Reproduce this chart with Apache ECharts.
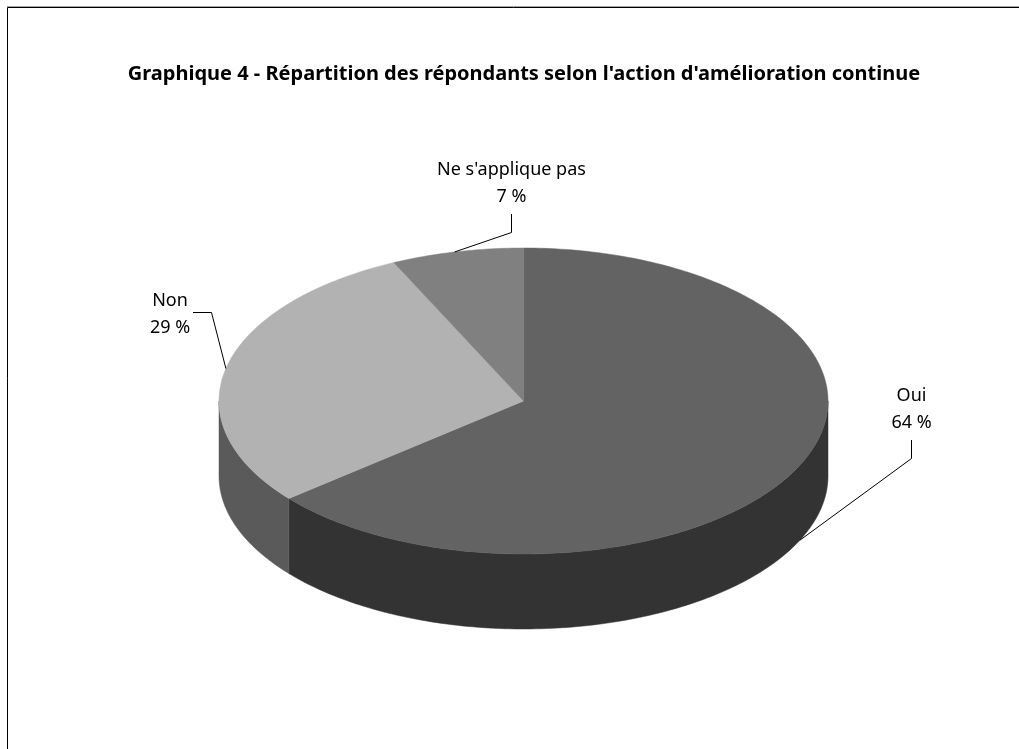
<!DOCTYPE html>
<html><head><meta charset="utf-8">
<style>html,body{margin:0;padding:0;background:#fff}#c{width:1019px;height:749px}</style>
<script src="https://cdn.jsdelivr.net/npm/echarts@6/dist/echarts.min.js"></script>
</head><body><div id="c"></div>
<script>
const titleText = "Graphique 4 - Répartition des répondants selon l'action d'amélioration continue";
const categories = ["Oui", "Non", "Ne s'applique pas"];
const shares = [64, 29, 7];
const topColors = ["#636363", "#b2b2b2", "#808080"];
const sideColors = ["#333333", "#5a5a5a", "#4d4d4d"];
const FONT = "'Noto Sans', Lato, sans-serif";

const geo = {cx: 523.5, cy: 401, rx: 304.5, ry: 153, depth: 75};
const leaders = [
  {rim: 0.319, drop: 75, mid: [911.5, 458.5], end: [911.5, 440], label: [911.5, 409]},
  {rim: 0.784, drop: 0, mid: [211.5, 312.5], end: [193, 312.5], label: [170, 314]},
  {rim: 0.9637, drop: 0, mid: [511.5, 232.5], end: [511.5, 214], label: [511.5, 183]}
];

function pt(f, dy) {
  const t = f * 2 * Math.PI;
  return [geo.cx + geo.rx * Math.sin(t), geo.cy - geo.ry * Math.cos(t) + (dy || 0)];
}
function arc(f0, f1, dy) {
  const n = Math.max(2, Math.ceil(Math.abs(f1 - f0) * 360));
  const out = [];
  for (let i = 0; i <= n; i++) out.push(pt(f0 + (f1 - f0) * i / n, dy));
  return out;
}
function poly(points, fill, z) {
  return {type: 'polygon', z2: z, shape: {points}, style: {fill, stroke: fill, lineWidth: 0.5}};
}
const total = shares.reduce((a, b) => a + b, 0);
const starts = [];
shares.reduce((acc, v, i) => { starts[i] = acc / total; return acc + v; }, 0);

function renderItem(params, api) {
  const i = params.dataIndex;
  const f0 = starts[i], f1 = f0 + api.value(0) / total;
  const children = [];
  const a = Math.max(f0, 0.25), b = Math.min(f1, 0.75);
  if (b > a) {
    children.push(poly(arc(a, b, 0).concat(arc(b, a, geo.depth)), sideColors[i], 1));
  }
  children.push(poly([[geo.cx, geo.cy]].concat(arc(f0, f1, 0)), topColors[i], 2));
  const L = leaders[i];
  children.push({type: 'polyline', z2: 3,
    shape: {points: [pt(L.rim, L.drop), L.mid, L.end]},
    style: {stroke: '#000', lineWidth: 1, fill: null}});
  children.push({type: 'text', z2: 4,
    style: {x: L.label[0], y: L.label[1], text: categories[i] + "\n" + api.value(0) + " %",
      fill: '#000', font: "18px " + FONT, align: 'center', verticalAlign: 'middle', lineHeight: 27}});
  return {type: 'group', children};
}

const chart = echarts.init(document.getElementById('c'), null, {renderer: 'canvas'});
chart.setOption({
  animation: false,
  backgroundColor: '#fff',
  title: {text: titleText, left: 519, top: 59, textAlign: 'center',
    textStyle: {fontFamily: FONT, fontSize: 20, fontWeight: 'bold', color: '#000'}},
  graphic: [
    {type: 'polyline', silent: true, shape: {points: [[7.5, 749], [7.5, 7.5], [1019, 7.5]]},
     style: {stroke: '#000', lineWidth: 1, fill: null}},
    {type: 'line', silent: true, shape: {x1: 7, y1: 6.5, x2: 1019, y2: 6.5},
     style: {stroke: '#a6a6a6', lineWidth: 1}}
  ],
  series: [{type: 'custom', coordinateSystem: 'none', renderItem,
    data: shares.map((v, i) => ({name: categories[i], value: [v]}))}]
});
</script></body></html>
